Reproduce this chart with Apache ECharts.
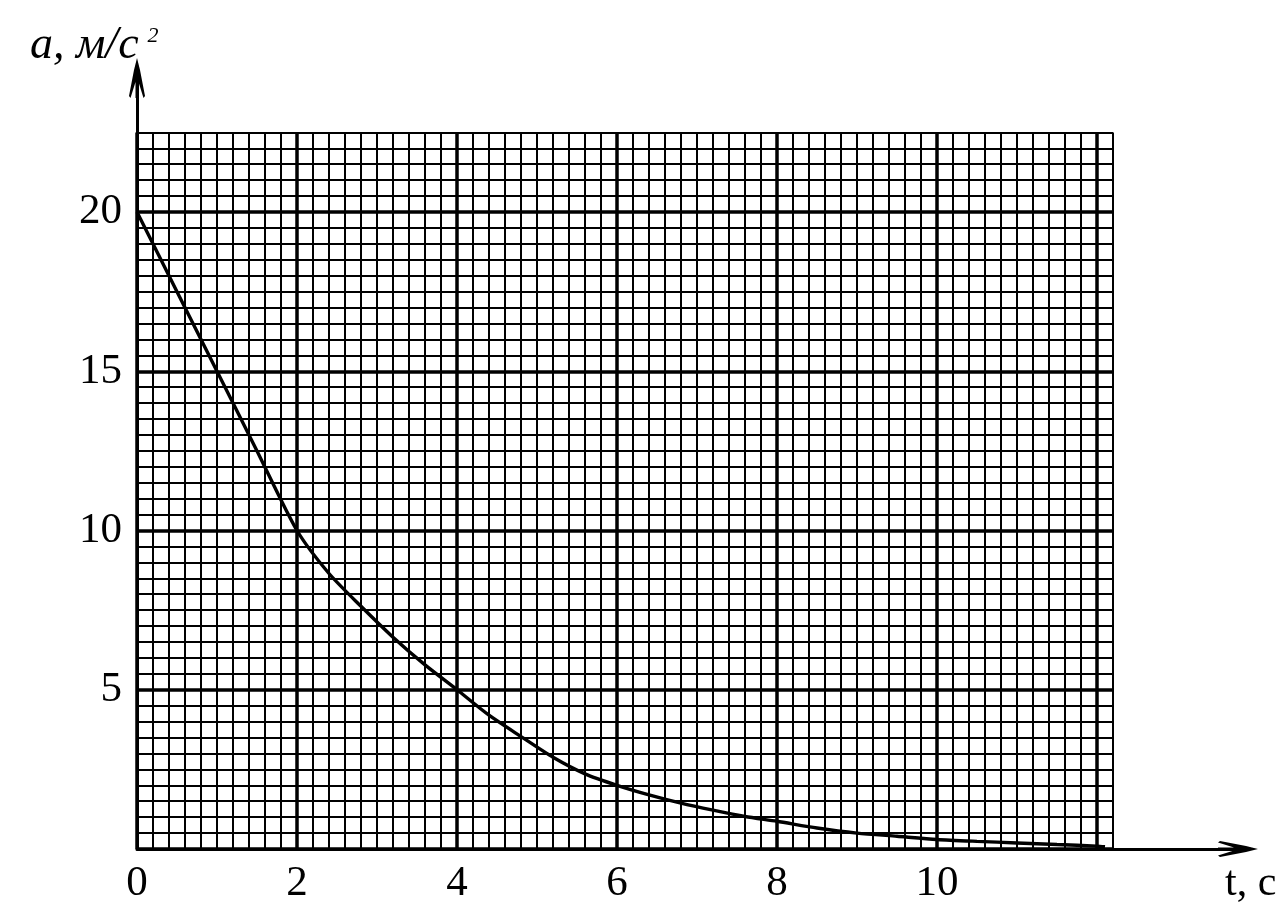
<!DOCTYPE html>
<html>
<head>
<meta charset="utf-8">
<script src="https://cdn.jsdelivr.net/npm/echarts@6/dist/echarts.min.js"></script>
<style>
html,body{margin:0;padding:0;background:#fff;}
#chart{width:1285px;height:917px;}
</style>
</head>
<body>
<div id="chart"></div>
<script>
// ---- data ----
const tValues = [0, 0.5, 1, 1.5, 2, 2.4, 2.8, 3.2, 3.6, 4, 4.4, 4.8, 5.2, 5.6, 6, 6.4, 6.8, 7.2, 7.6, 8, 8.5, 9, 9.5, 10, 10.5, 11, 11.5, 12, 12.1];
const aValues = [20, 17.5, 15, 12.5, 10, 8.65, 7.62, 6.65, 5.78, 5.0, 4.2, 3.53, 2.88, 2.36, 2.0, 1.7, 1.44, 1.22, 1.02, 0.87, 0.66, 0.5, 0.4, 0.3, 0.24, 0.19, 0.14, 0.09, 0.07];
const xTickLabels = ['0', '2', '4', '6', '8', '10'];
const yTickLabels = ['5', '10', '15', '20'];
const xAxisTitle = 't, c';
const yAxisTitleMain = 'a, м/с';
const yAxisTitleSup = '2';

const serif = 'Liberation Serif, Times New Roman, serif';
const arrowPath = 'path://M8,0 L11,12 L16,38 L14.5,40 L9.5,24 L9.5,40 L6.5,40 L6.5,24 L1.5,40 L0,38 L5,12 Z';

const chart = echarts.init(document.getElementById('chart'), null, {renderer: 'canvas'});
const option = {
  backgroundColor: '#fff',
  animation: false,
  title: [
    {
      left: 25, top: 18,
      text: '{m|' + yAxisTitleMain + '}{s|' + yAxisTitleSup + '}',
      textStyle: {
        fontWeight: 'normal',
        rich: {
          m: {fontFamily: serif, fontStyle: 'italic', fontWeight: 'normal', fontSize: 46, color: '#000'},
          s: {fontFamily: serif, fontStyle: 'italic', fontWeight: 'normal', fontSize: 22, color: '#000', verticalAlign: 'top', padding: [2, 0, 0, 9]}
        }
      }
    },
    {
      left: 1220, top: 858,
      text: xAxisTitle,
      textStyle: {fontFamily: serif, fontWeight: 'normal', fontSize: 42, color: '#000'}
    }
  ],
  grid: [
    {left: 137, top: 132.4, width: 976, height: 716.6},
    {left: 137, top: 78, width: 1101, height: 771}
  ],
  xAxis: [
    {
      gridIndex: 0, type: 'value', min: 0, max: 12.2, interval: 0.2,
      axisLine: {show: false}, axisTick: {show: false}, axisLabel: {show: false},
      splitLine: {show: true, lineStyle: {color: '#000', width: 2}}
    },
    {
      gridIndex: 0, type: 'value', min: 0, max: 12.2, interval: 2, position: 'bottom',
      axisLine: {show: false, onZero: false}, axisTick: {show: false},
      axisLabel: {
        show: true, margin: 13, fontFamily: serif, fontSize: 43, color: '#000',
        showMaxLabel: false,
        formatter: function (v) { const s = String(v); return xTickLabels.indexOf(s) >= 0 ? s : ''; }
      },
      splitLine: {show: true, showMaxLine: false, lineStyle: {color: '#000', width: 3.5}}
    },
    {
      gridIndex: 1, type: 'value', min: 0, max: 1, position: 'bottom',
      axisLine: {show: true, onZero: false, symbol: ['none', arrowPath], symbolSize: [16, 40], lineStyle: {color: '#000', width: 3}},
      axisTick: {show: false}, axisLabel: {show: false}, splitLine: {show: false}
    }
  ],
  yAxis: [
    {
      gridIndex: 0, type: 'value', min: 0, max: 22.5, interval: 0.5,
      axisLine: {show: false}, axisTick: {show: false}, axisLabel: {show: false},
      splitLine: {show: true, lineStyle: {color: '#000', width: 2}}
    },
    {
      gridIndex: 0, type: 'value', min: 0, max: 22.5, interval: 5, position: 'left',
      axisLine: {show: false, onZero: false}, axisTick: {show: false},
      axisLabel: {
        show: true, margin: 15, fontFamily: serif, fontSize: 43, color: '#000',
        showMinLabel: false, showMaxLabel: false,
        formatter: function (v) { const s = String(v); return yTickLabels.indexOf(s) >= 0 ? s : ''; }
      },
      splitLine: {show: true, showMaxLine: false, lineStyle: {color: '#000', width: 3.5}}
    },
    {
      gridIndex: 1, type: 'value', min: 0, max: 1, position: 'left',
      axisLine: {show: true, onZero: false, symbol: ['none', arrowPath], symbolSize: [16, 40], lineStyle: {color: '#000', width: 3}},
      axisTick: {show: false}, axisLabel: {show: false}, splitLine: {show: false}
    }
  ],
  series: [
    {
      type: 'line', xAxisIndex: 0, yAxisIndex: 0,
      data: tValues.map((t, i) => [t, aValues[i]]),
      smooth: 0.25, showSymbol: false, symbol: 'none',
      lineStyle: {color: '#000', width: 3.4},
      z: 10
    }
  ]
};
chart.setOption(option);
</script>
</body>
</html>
